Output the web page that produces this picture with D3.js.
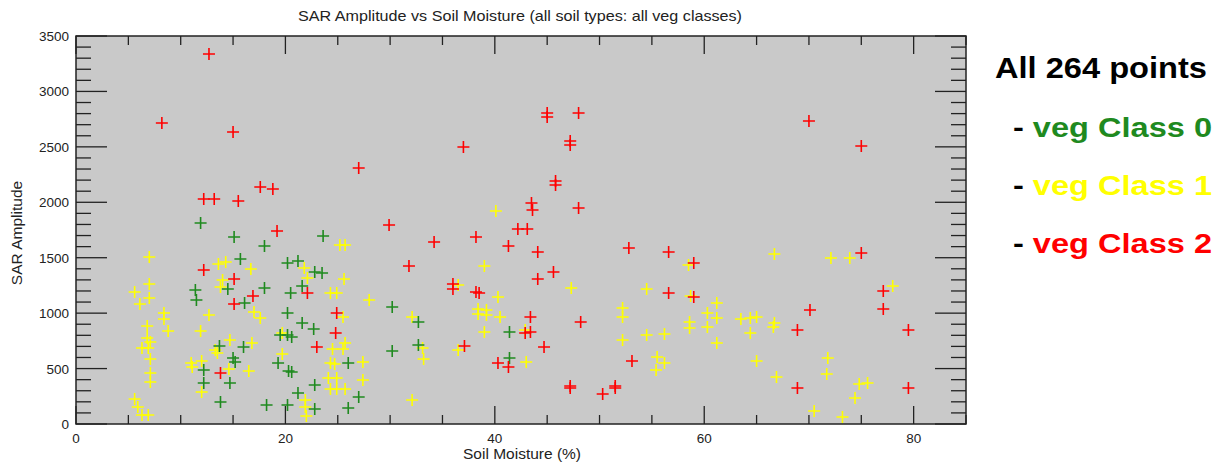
<!DOCTYPE html>
<html><head><meta charset="utf-8">
<script src="https://cdn.jsdelivr.net/npm/d3@7"></script>
<style>
html,body{margin:0;padding:0;background:#fff;}
svg{display:block;font-family:"Liberation Sans",Arial,sans-serif;}
</style></head>
<body>
<svg id="chart" width="1225" height="466"></svg>
<script>
// ---- data (soil moisture %, SAR amplitude) ----
const class0Points = [[11.9,1813],[15.1,1687],[18.0,1606],[23.6,1696],[15.7,1488],[20.2,1452],[21.2,1470],[22.8,1371],[23.5,1362],[11.4,1209],[11.5,1119],[14.5,1218],[18.0,1227],[16.1,1091],[20.5,1182],[21.6,1245],[20.2,1001],[21.6,911],[22.7,857],[19.5,803],[20.2,803],[20.6,785],[13.7,704],[16.0,695],[15.0,595],[15.2,559],[12.2,487],[12.2,370],[14.7,370],[13.8,198],[18.2,171],[20.2,171],[19.3,550],[20.3,478],[20.6,469],[22.8,352],[22.8,135],[21.2,280],[26.0,550],[26.0,144],[27.0,244],[30.2,1055],[32.7,920],[32.7,713],[30.2,658],[41.4,830],[41.4,595]];
const class1Points = [[7.0,1506],[5.6,1191],[7.0,1263],[7.0,1137],[6.1,1082],[8.4,1001],[8.4,947],[8.8,839],[6.8,884],[6.8,776],[7.1,740],[6.3,686],[6.9,686],[7.1,586],[7.1,460],[7.1,379],[5.6,226],[5.9,153],[6.3,81],[6.9,81],
[13.6,1443],[14.3,1461],[16.7,1398],[14.0,1299],[13.8,1236],[12.7,983],[11.9,839],[11.0,550],[11.1,514],[12.0,568],[13.3,668],[13.5,640],[14.7,758],[16.8,731],[14.6,496],[16.5,478],[12.0,289],[17.0,1010],[17.6,956],[19.7,821],[19.7,631],[21.8,1407],[22.1,1317],[24.3,1182],[24.9,1182],[25.2,1615],[25.7,1615],[25.6,1308],[25.5,965],[24.5,677],[25.7,731],[25.5,677],[24.3,550],[24.7,541],[27.4,559],[24.1,415],[24.9,415],[27.4,397],[24.3,316],[24.9,316],[25.7,316],[21.9,216],[21.9,153],[22.0,72],[28.0,1119],
[39.0,1425],[36.5,1254],[40.3,1146],[47.3,1227],[54.5,1218],[38.4,1037],[39.2,1028],[38.4,992],[39.2,983],[40.5,965],[32.1,965],[39.0,830],[52.2,1046],[52.2,965],[52.2,758],[54.5,803],[33.1,686],[33.2,586],[36.5,668],[43.0,559],[55.5,604],[55.4,487],[32.1,216],[40.1,1921],[58.5,1434],[58.7,1155],[66.7,1534],[72.1,1497],[73.9,1497],[78.0,1245],[61.2,1091],[60.3,1001],[61.2,956],[58.6,920],[58.6,866],[60.3,875],[63.5,947],[64.4,956],[65.0,965],[64.4,821],[66.7,911],[66.6,875],[56.2,812],[61.2,731],[56.2,550],[65.0,568],[71.8,595],[66.9,424],[71.7,451],[74.8,361],[75.6,370],[74.4,235],[70.5,117],[73.2,63],[42.9,848]];
const class2Points = [[12.7,3338],[8.2,2715],[15.0,2634],[27.0,2309],[12.2,2030],[13.2,2030],[15.5,2012],[17.6,2138],[18.8,2120],[19.2,1741],[12.2,1389],[15.1,1308],[16.9,1155],[15.1,1082],[22.1,1182],[24.9,1001],[24.8,821],[23.0,695],[13.8,460],[29.9,1795],[34.2,1642],[38.2,1687],[42.2,1759],[43.1,1759],[41.3,1606],[44.1,1552],[52.8,1588],[31.8,1425],[45.6,1371],[44.1,1308],[36.0,1263],[36.0,1218],[38.2,1191],[38.5,1182],[43.4,965],[42.9,821],[43.4,830],[48.2,920],[37.1,704],[44.7,695],[40.3,550],[41.3,514],[47.2,325],[47.2,343],[51.5,325],[51.5,343],[50.3,271],[53.1,568],[45.0,2805],[45.0,2769],[48.0,2805],[47.2,2553],[47.2,2517],[37.0,2499],[45.8,2192],[45.8,2156],[43.5,1994],[43.6,1930],[48.0,1948],[70.0,2733],[75.0,2508],[56.6,1552],[59.0,1452],[56.6,1182],[59.0,1146],[75.0,1542],[77.1,1200],[77.1,1037],[70.1,1028],[68.9,848],[79.5,848],[68.9,325],[79.5,325]];

const xMajorTicks = [0,20,40,60,80];
const yMajorTicks = [0,500,1000,1500,2000,2500,3000,3500];
const titleText = "SAR Amplitude vs Soil Moisture (all soil types: all veg classes)";
const xLabel = "Soil Moisture (%)";
const yLabel = "SAR Amplitude";
const legendTitle = "All 264 points";
const legendItems = ["veg Class 0","veg Class 1","veg Class 2"];
const classColors = ["#1f8a1f","#ffff00","#ff0000"];

// ---- layout ----
const svg = d3.select("#chart");
const L = 76, R = 966, T = 36, B = 424;
const x = d3.scaleLinear().domain([0,85]).range([L,R]);
const y = d3.scaleLinear().domain([0,3500]).range([B,T]);

svg.append("rect").attr("x",L).attr("y",T).attr("width",R-L).attr("height",B-T).attr("fill","#c9c9c9");

// minor/major ticks
const xMinor = d3.range(0,86,5).filter(v=>v%20!==0);
const yMinor = d3.range(0,3501,100).filter(v=>v%500!==0);
const axisColor = "#222";
const tg = svg.append("g").attr("stroke",axisColor).attr("stroke-width",1.3);
function xt(vals,len){
  vals.forEach(v=>{
    tg.append("line").attr("x1",x(v)).attr("x2",x(v)).attr("y1",B).attr("y2",B-len);
    tg.append("line").attr("x1",x(v)).attr("x2",x(v)).attr("y1",T).attr("y2",T+len);
  });
}
function yt(vals,len){
  vals.forEach(v=>{
    tg.append("line").attr("y1",y(v)).attr("y2",y(v)).attr("x1",L).attr("x2",L+len);
    tg.append("line").attr("y1",y(v)).attr("y2",y(v)).attr("x1",R).attr("x2",R-len);
  });
}
xt(xMinor,9); xt(xMajorTicks,18);
yt(yMinor,15); yt(yMajorTicks,31);

// frame
svg.append("rect").attr("x",L).attr("y",T).attr("width",R-L).attr("height",B-T)
  .attr("fill","none").attr("stroke",axisColor).attr("stroke-width",1.5);

// tick labels
svg.append("g").selectAll("text").data(xMajorTicks).join("text")
  .attr("x",d=>x(d)).attr("y",B+19).attr("text-anchor","middle")
  .attr("font-size",13.5).attr("fill","#222").text(d=>d);
svg.append("g").selectAll("text").data(yMajorTicks).join("text")
  .attr("x",L-7).attr("y",d=>y(d)+5).attr("text-anchor","end")
  .attr("font-size",13.5).attr("fill","#222").text(d=>d);

// titles
svg.append("text").attr("x",520).attr("y",21).attr("text-anchor","middle")
  .attr("font-size",15).attr("fill","#222")
  .attr("textLength",444).attr("lengthAdjust","spacingAndGlyphs").text(titleText);
svg.append("text").attr("x",522).attr("y",459).attr("text-anchor","middle")
  .attr("font-size",15.5).attr("fill","#222").text(xLabel);
svg.append("text").attr("transform",`translate(22,${(T+B)/2+3}) rotate(-90)`).attr("text-anchor","middle")
  .attr("font-size",15.5).attr("fill","#222").text(yLabel);

// points
const cross = "M-6,0H6M0,-6V6";
function drawPts(data,color){
  svg.append("g").selectAll("path").data(data).join("path")
    .attr("d",cross).attr("transform",d=>`translate(${x(d[0])},${y(d[1])})`)
    .attr("stroke",color).attr("stroke-width",1.6).attr("fill","none");
}
drawPts(class1Points,classColors[1]);
drawPts(class0Points,classColors[0]);
drawPts(class2Points,classColors[2]);

// legend
svg.append("text").attr("x",995).attr("y",78).attr("font-size",29).attr("font-weight","bold")
  .attr("fill","#000").attr("textLength",212).attr("lengthAdjust","spacingAndGlyphs").text(legendTitle);
legendItems.forEach((t,i)=>{
  const tx = svg.append("text").attr("x",1013).attr("y",137+58*i).attr("font-size",27).attr("font-weight","bold")
    .attr("textLength",199).attr("lengthAdjust","spacingAndGlyphs");
  tx.append("tspan").attr("fill","#000").text("- ");
  tx.append("tspan").attr("fill",classColors[i]).text(t);
});
</script>
</body></html>
